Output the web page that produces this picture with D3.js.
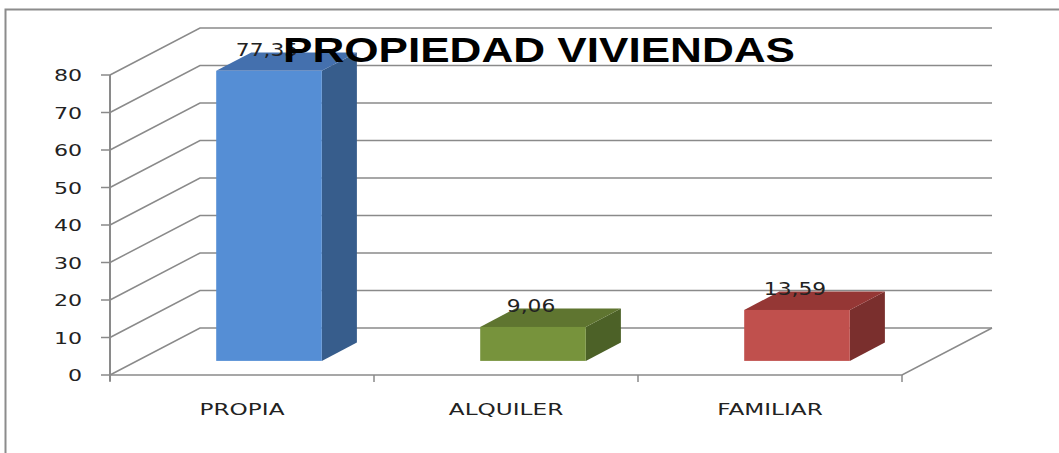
<!DOCTYPE html>
<html>
<head>
<meta charset="utf-8">
<script src="https://cdn.jsdelivr.net/npm/d3@7"></script>
<style>
  body { margin: 0; background: #fff; }
  svg { display: block; }
</style>
</head>
<body>
<div id="chart"></div>
<script>
// data
var categories = ['PROPIA', 'ALQUILER', 'FAMILIAR'];
var values = [77.35, 9.06, 13.59];
var valueLabels = ['77,35', '9,06', '13,59'];
var yTicks = [0, 10, 20, 30, 40, 50, 60, 70, 80];
var title = 'PROPIEDAD VIVIENDAS';

var faceColors = [
    { front: '#558ed5', top: '#4470ae', side: '#375d8c' },
    { front: '#77933c', top: '#5f7530', side: '#4c6127' },
    { front: '#c0504d', top: '#953735', side: '#7a2f2d' }
];

var width = 1059, height = 453;
var depth = { x: 90, y: -47 };   // wall depth offset
var barStart = 0.3, barDepth = 0.39;
var gridColor = '#8a8a8a';

var x = d3.scaleBand().domain(categories).range([110, 902]).padding(0);
var y = d3.scaleLinear().domain([0, 80]).range([375, 75]);

var svg = d3.select('#chart').append('svg')
    .attr('width', width)
    .attr('height', height);

// outer frame (cropped at right/bottom)
svg.append('rect')
    .attr('x', 5.5).attr('y', 9.5)
    .attr('width', 1100).attr('height', 500)
    .attr('fill', 'none')
    .attr('stroke', '#8c8c8c')
    .attr('stroke-width', 2);

var x0 = x.range()[0], x1 = x.range()[1];

// side + back wall gridlines
svg.append('g').selectAll('path')
    .data(yTicks)
    .join('path')
    .attr('fill', 'none')
    .attr('stroke', gridColor)
    .attr('stroke-width', 1.5)
    .attr('d', d => 'M' + x0 + ',' + y(d) +
        'L' + (x0 + depth.x) + ',' + (y(d) + depth.y) +
        'L' + (x1 + depth.x) + ',' + (y(d) + depth.y));

// floor front and right edges
svg.append('path')
    .attr('fill', 'none')
    .attr('stroke', gridColor)
    .attr('stroke-width', 1.5)
    .attr('d', 'M' + x0 + ',' + y(0) + 'L' + x1 + ',' + y(0) +
        'L' + (x1 + depth.x) + ',' + (y(0) + depth.y));

// value axis line
svg.append('line')
    .attr('x1', x0).attr('x2', x0)
    .attr('y1', y(80)).attr('y2', y(0) + 6)
    .attr('stroke', gridColor).attr('stroke-width', 2);

svg.append('g').selectAll('line')
    .data(yTicks)
    .join('line')
    .attr('x1', x0 - 9).attr('x2', x0)
    .attr('y1', d => y(d)).attr('y2', d => y(d))
    .attr('stroke', gridColor).attr('stroke-width', 1.5);

// category ticks
var catEdges = categories.map(c => x(c)).concat([x1]);
svg.append('g').selectAll('line')
    .data(catEdges)
    .join('line')
    .attr('x1', d => d).attr('x2', d => d)
    .attr('y1', y(0)).attr('y2', y(0) + 7)
    .attr('stroke', gridColor).attr('stroke-width', 1.5);

function stretchedText(g, tx, ty, sx, txt) {
    return g.append('text')
        .attr('transform', 'translate(' + tx + ',' + ty + ') scale(' + sx + ',1)')
        .text(txt);
}

// y tick labels
var yLab = svg.append('g')
    .attr('font-family', 'DejaVu Sans, Verdana, sans-serif')
    .attr('font-size', 16)
    .attr('fill', '#222')
    .attr('text-anchor', 'end');
yTicks.forEach(t => stretchedText(yLab, 82, y(t) + 6, 1.38, t));

// category labels
var xLab = svg.append('g')
    .attr('font-family', 'DejaVu Sans, Verdana, sans-serif')
    .attr('font-size', 16)
    .attr('fill', '#222')
    .attr('text-anchor', 'middle');
categories.forEach(c => stretchedText(xLab, x(c) + x.bandwidth() / 2, 415, 1.45, c));

// bars
var bw = x.bandwidth() * 0.4;
var bars = svg.append('g');
categories.forEach(function (c, i) {
    var fx = x(c) + (x.bandwidth() - bw) / 2 + depth.x * barStart;
    var fb = y(0) + depth.y * barStart;
    var ft = y(values[i]) + depth.y * barStart;
    var dx = depth.x * barDepth, dy = depth.y * barDepth;
    var col = faceColors[i];
    var g = bars.append('g');
    g.append('path').attr('fill', col.side)
        .attr('d', 'M' + (fx + bw) + ',' + fb + 'L' + (fx + bw) + ',' + ft +
            'L' + (fx + bw + dx) + ',' + (ft + dy) + 'L' + (fx + bw + dx) + ',' + (fb + dy) + 'Z');
    g.append('path').attr('fill', col.top)
        .attr('d', 'M' + fx + ',' + ft + 'L' + (fx + bw) + ',' + ft +
            'L' + (fx + bw + dx) + ',' + (ft + dy) + 'L' + (fx + dx) + ',' + (ft + dy) + 'Z');
    g.append('rect').attr('fill', col.front)
        .attr('x', fx).attr('y', ft)
        .attr('width', bw).attr('height', fb - ft);
});

// value labels
var vLab = svg.append('g')
    .attr('font-family', 'DejaVu Sans, Verdana, sans-serif')
    .attr('font-size', 17)
    .attr('fill', '#222')
    .attr('text-anchor', 'middle');
categories.forEach(function (c, i) {
    var cx = x(c) + x.bandwidth() / 2 + depth.x * barStart;
    var ty = y(values[i]) + depth.y * barStart - 15;
    stretchedText(vLab, cx - 2, ty, 1.28, valueLabels[i]);
});

// title
svg.append('text')
    .attr('transform', 'translate(539,62) scale(1.26,1)')
    .attr('text-anchor', 'middle')
    .attr('font-family', 'Liberation Sans, Arial, sans-serif')
    .attr('font-weight', 'bold')
    .attr('font-size', 35)
    .attr('fill', '#000')
    .text(title);
</script>
</body>
</html>
